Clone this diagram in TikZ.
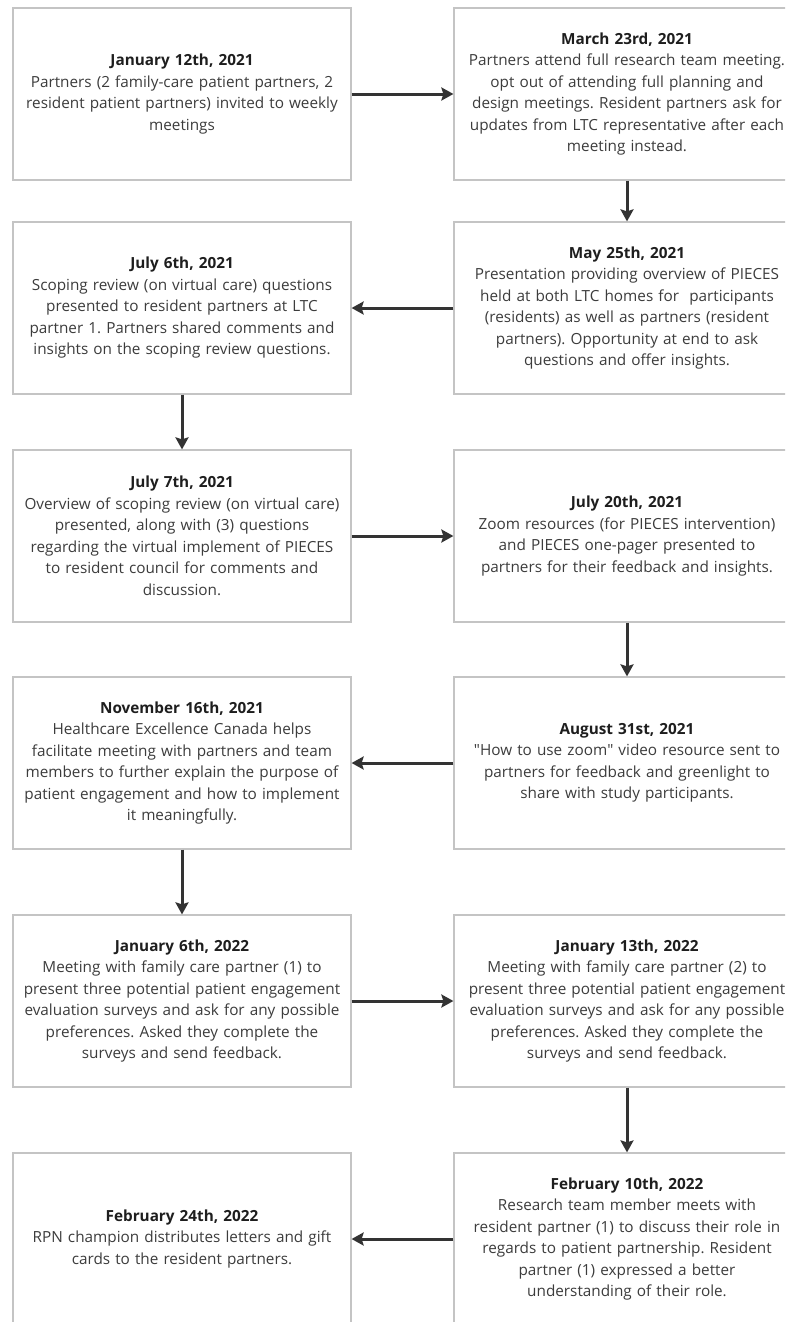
\documentclass[tikz,border=0pt]{standalone}
\usepackage{fontspec}
\setmainfont{Open Sans}
\usepackage{tikz}
\usetikzlibrary{arrows.meta,positioning}
\usepackage{xcolor}
\definecolor{boxline}{HTML}{C4C4C4}
\definecolor{arrowcol}{HTML}{333333}
\definecolor{bodytext}{HTML}{3C3C3C}
\definecolor{datetext}{HTML}{1E1E1E}
\frenchspacing

\newcommand{\eventdate}[1]{{\bfseries\color{datetext}#1}\\}

\begin{document}
\begin{tikzpicture}[x=1pt,y=1pt,
    event/.style={draw=boxline,line width=1.2pt,fill=white,minimum height=172pt,
        inner sep=0pt,align=center,text=bodytext,
        font=\fontsize{15.3}{21.5}\selectfont},
    leftbox/.style={event,minimum width=338pt,text width=332pt},
    rightbox/.style={event,minimum width=346pt,text width=340pt},
    flow/.style={draw=arrowcol,line width=3pt,-{Stealth[length=12pt,width=13pt,inset=2pt]}}]
    \clip (0,0) rectangle (785,-1322);
    \fill[white] (0,0) rectangle (785,-1322);
    % row 1
    \node[leftbox] (jan12) at (182,-94) {\eventdate{January 12th, 2021}
        Partners (2 family-care patient partners, 2\\
        resident patient partners) invited to weekly\\
        meetings};
    \node[rightbox] (mar23) at (627,-94) {\eventdate{March 23rd, 2021}
        Partners attend full research team meeting.\\
        opt out of attending full planning and\\
        design meetings. Resident partners ask for\\
        updates from LTC representative after each\\
        meeting instead.};
    % row 2
    \node[rightbox] (may25) at (627,-308) {\eventdate{May 25th, 2021}
        Presentation providing overview of PIECES\\
        held at both LTC homes for\ \ participants\\
        (residents) as well as partners (resident\\
        partners). Opportunity at end to ask\\
        questions and offer insights.};
    \node[leftbox] (jul6) at (182,-308) {\eventdate{July 6th, 2021}
        Scoping review (on virtual care) questions\\
        presented to resident partners at LTC\\
        partner 1. Partners shared comments and\\
        insights on the scoping review questions.};
    % row 3
    \node[leftbox] (jul7) at (182,-536) {\eventdate{July 7th, 2021}
        Overview of scoping review (on virtual care)\\
        presented, along with (3) questions\\
        regarding the virtual implement of PIECES\\
        to resident council for comments and\\
        discussion.};
    \node[rightbox] (jul20) at (627,-536) {\eventdate{July 20th, 2021}
        Zoom resources (for PIECES intervention)\\
        and PIECES one-pager presented to\\
        partners for their feedback and insights.};
    % row 4
    \node[rightbox] (aug31) at (627,-763) {\eventdate{August 31st, 2021}
        \textquotedbl How to use zoom\textquotedbl{} video resource sent to\\
        partners for feedback and greenlight to\\
        share with study participants.};
    \node[leftbox] (nov16) at (182,-763) {\eventdate{November 16th, 2021}
        Healthcare Excellence Canada helps\\
        facilitate meeting with partners and team\\
        members to further explain the purpose of\\
        patient engagement and how to implement\\
        it meaningfully.};
    % row 5
    \node[leftbox] (jan6) at (182,-1001) {\eventdate{January 6th, 2022}
        Meeting with family care partner (1) to\\
        present three potential patient engagement\\
        evaluation surveys and ask for any possible\\
        preferences. Asked they complete the\\
        surveys and send feedback.};
    \node[rightbox] (jan13) at (627,-1001) {\eventdate{January 13th, 2022}
        Meeting with family care partner (2) to\\
        present three potential patient engagement\\
        evaluation surveys and ask for any possible\\
        preferences. Asked they complete the\\
        surveys and send feedback.};
    % row 6
    \node[rightbox] (feb10) at (627,-1239) {\eventdate{February 10th, 2022}
        Research team member meets with\\
        resident partner (1) to discuss their role in\\
        regards to patient partnership. Resident\\
        partner (1) expressed a better\\
        understanding of their role.};
    \node[leftbox] (feb24) at (182,-1239) {\eventdate{February 24th, 2022}
        RPN champion distributes letters and gift\\
        cards to the resident partners.};
    % arrows
    \draw[flow] (jan12) -- (mar23);
    \draw[flow] (mar23) -- (may25);
    \draw[flow] (may25) -- (jul6);
    \draw[flow] (jul6) -- (jul7);
    \draw[flow] (jul7) -- (jul20);
    \draw[flow] (jul20) -- (aug31);
    \draw[flow] (aug31) -- (nov16);
    \draw[flow] (nov16) -- (jan6);
    \draw[flow] (jan6) -- (jan13);
    \draw[flow] (jan13) -- (feb10);
    \draw[flow] (feb10) -- (feb24);
\end{tikzpicture}
\end{document}
